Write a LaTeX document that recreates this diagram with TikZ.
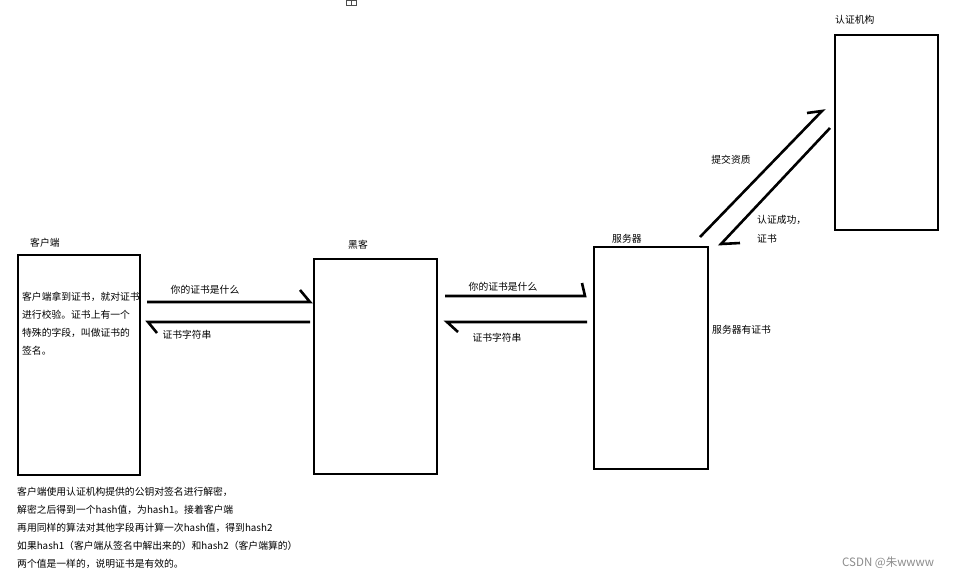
\documentclass[tikz,border=0pt]{standalone}
\usepackage{fontspec}
\setmainfont{Noto Sans CJK SC}
\begin{document}
\begin{tikzpicture}[x=1pt,y=-1pt,
  box/.style={draw=black,line width=2.4pt},
  arr/.style={draw=black,line width=2.6pt,line join=miter},
  lbl/.style={font=\fontsize{9.8}{11}\selectfont,inner sep=0pt},
  para/.style={font=\fontsize{9.8}{18}\selectfont,inner sep=0pt,align=left,anchor=north west}]
\useasboundingbox[fill=white] (0,0) rectangle (954,581);
% boxes
\draw[box] (18,255) rectangle (140,475);
\draw[box] (314,259) rectangle (437,474);
\draw[box] (594,247) rectangle (708,469);
\draw[box] (835,35) rectangle (938,230);
% titles
\node[lbl,anchor=west] (tc) at (30,243) {客户端};
\node[lbl,anchor=west] (th) at (348,245) {黑客};
\node[lbl,anchor=west] (ts) at (612,239) {服务器};
\node[lbl,anchor=west] (ta) at (835,20) {认证机构};
% client text
\node[para] (ct) at (22,292) {客户端拿到证书，就对证书\\进行校验。证书上有一个\\特殊的字段，叫做证书的\\签名。};
% bottom text
\node[para] (bt) at (17,487) {客户端使用认证机构提供的公钥对签名进行解密，\\解密之后得到一个hash值，为hash1。接着客户端\\再用同样的算法对其他字段再计算一次hash值，得到hash2\\如果hash1（客户端从签名中解出来的）和hash2（客户端算的）\\两个值是一样的，说明证书是有效的。};
% arrow coordinates
\coordinate (a1s) at (147,302); \coordinate (a1e) at (310,302); \coordinate (a1b) at (300,290);
\coordinate (a2s) at (310,322); \coordinate (a2e) at (148,322); \coordinate (a2b) at (157,333);
\coordinate (a3s) at (445,296); \coordinate (a3e) at (585,296); \coordinate (a3b) at (582,283);
\coordinate (a4s) at (587,322); \coordinate (a4e) at (447,322); \coordinate (a4b) at (458,332);
\coordinate (a5s) at (700,237); \coordinate (a5e) at (822,111); \coordinate (a5b) at (807,113);
\coordinate (a6s) at (830,128); \coordinate (a6e) at (721,244); \coordinate (a6b) at (740,243);
\draw[arr] (a1s) -- (a1e) -- (a1b);
\draw[arr] (a2s) -- (a2e) -- (a2b);
\draw[arr] (a3s) -- (a3e) -- (a3b);
\draw[arr] (a4s) -- (a4e) -- (a4b);
\draw[arr] (a5s) -- (a5e) -- (a5b);
\draw[arr] (a6s) -- (a6e) -- (a6b);
% arrow labels
\node[lbl] (l1) at (205,290) {你的证书是什么};
\node[lbl] (l2) at (187,335) {证书字符串};
\node[lbl] (l3) at (503,287) {你的证书是什么};
\node[lbl] (l4) at (497,338) {证书字符串};
\node[lbl] (l5) at (731,160) {提交资质};
\node[lbl,anchor=west] (l6) at (757,220) {认证成功，};
\node[lbl,anchor=west] (l7) at (757,239) {证书};
\node[lbl,anchor=west] (l8) at (712,330) {服务器有证书};
% small icon
\draw[line width=0.6pt,draw=black!70] (346,0) rectangle (356,5);
\draw[line width=0.6pt,draw=black!70] (351,0) -- (351,5);
% watermark
\node[font=\fontsize{11.5}{13}\selectfont,inner sep=0pt,text=black!45,anchor=west] (wm) at (842,563) {CSDN @朱wwww};
\end{tikzpicture}
\end{document}
